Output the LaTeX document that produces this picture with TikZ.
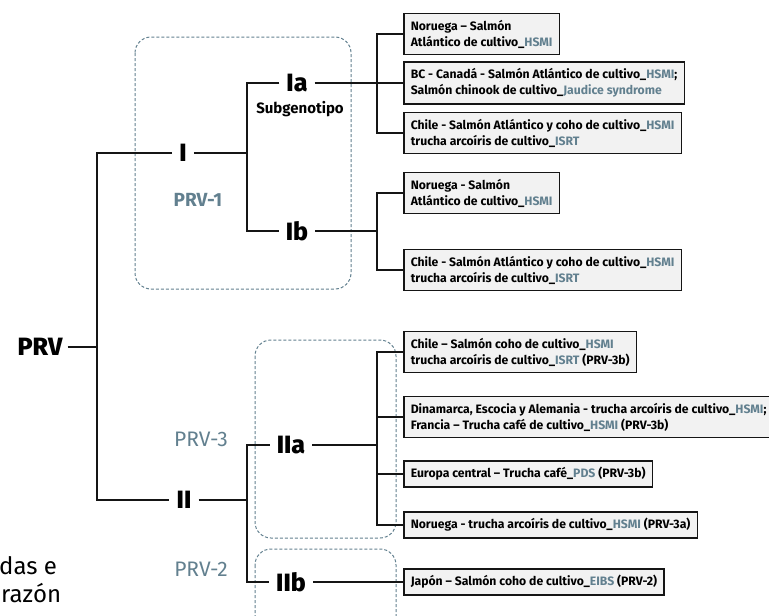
\documentclass[tikz,border=0pt]{standalone}
\usepackage{fontspec}
\setmainfont{Fira Sans}
\newfontfamily\heavyfont{Fira Sans ExtraBold}
\usepackage{xcolor}
\definecolor{prv-main}{HTML}{151515}
\definecolor{prv-blue}{HTML}{62808F}
\definecolor{prv-fill}{HTML}{F2F2F2}
\newcommand{\virus}[1]{\textcolor{prv-blue}{#1}}
\tikzset{
  clade/.style={font=\fontsize{25}{25}\selectfont\heavyfont, inner xsep=7pt, inner ysep=2pt},
  host/.style={draw=prv-main, line width=1.5pt, fill=prv-fill, anchor=west, align=left,
    inner xsep=7pt, inner ysep=6.5pt, font=\fontsize{12.2}{16}\selectfont\bfseries},
  link/.style={prv-main, line width=1.3pt},
  group/.style={draw=prv-blue, dash pattern=on 3pt off 2pt, rounded corners=16pt, line width=1pt},
}
\begin{document}
\begin{tikzpicture}[x=1pt, y=-1pt]

    % Canvas
    \useasboundingbox (0,0) rectangle (769,616);
    \clip (0,0) rectangle (769,616);

    % Dashed groups
    \draw[group] (135,37) rectangle (351,289);
    \draw[group] (255,340) rectangle (396,538);
    \draw[group] (255,549) rectangle (396,640);

    % Cut-off text on the left
    \node[anchor=west, inner sep=0pt, font=\fontsize{24}{27}\selectfont] (cut1) at (-1,566) {das e};
    \node[anchor=west, inner sep=0pt, font=\fontsize{24}{27}\selectfont] (cut2) at (1,593) {razón};

    % Genotypes
    \node[clade, inner xsep=5pt] (prv) at (40,347) {PRV};
    \node[clade] (g1) at (183,153) {I};
    \node[clade] (g2) at (184,500) {II};
    \node[clade] (ia) at (297,83) {Ia};
    \node[clade] (ib) at (297,231) {Ib};
    \node[clade] (iia) at (291,445) {IIa};
    \node[clade] (iib) at (291,582) {IIb};

    % Labels
    \node[font=\fontsize{15}{15}\selectfont\bfseries] (sub) at (300,109) {Subgenotipo};
    \node[font=\fontsize{19}{19}\selectfont\bfseries, text=prv-blue] (prv1) at (198,200) {PRV-1};
    \node[font=\fontsize{21}{21}\selectfont, text=prv-blue] (prv3) at (201,439) {PRV-3};
    \node[font=\fontsize{21}{21}\selectfont, text=prv-blue] (prv2) at (201,569) {PRV-2};

    % Hosts
    \node[host] (b1) at (403,34) {Noruega – Salmón\\Atlántico de cultivo\_\virus{HSMI}};
    \node[host] (b2) at (403,83) {BC - Canadá - Salmón Atlántico de cultivo\_\virus{HSMI};\\Salmón chinook de cultivo\_\virus{Jaudice syndrome}};
    \node[host] (b3) at (403,133) {Chile - Salmón Atlántico y coho de cultivo\_\virus{HSMI}\\trucha arcoíris de cultivo\_\virus{ISRT}};
    \node[host] (b4) at (403,193) {Noruega - Salmón\\Atlántico de cultivo\_\virus{HSMI}};
    \node[host] (b5) at (403,270) {Chile - Salmón Atlántico y coho de cultivo\_\virus{HSMI}\\trucha arcoíris de cultivo\_\virus{ISRT}};
    \node[host] (b6) at (403,352) {Chile – Salmón coho de cultivo\_\virus{HSMI}\\trucha arcoíris de cultivo\_\virus{ISRT} (PRV-3b)};
    \node[host] (b7) at (403,417) {Dinamarca, Escocia y Alemania - trucha arcoíris de cultivo\_\virus{HSMI};\\Francia – Trucha café de cultivo\_\virus{HSMI} (PRV-3b)};
    \node[host] (b8) at (403,474) {Europa central – Trucha café\_\virus{PDS} (PRV-3b)};
    \node[host] (b9) at (403,525) {Noruega - trucha arcoíris de cultivo\_\virus{HSMI} (PRV-3a)};
    \node[host] (b10) at (403,582) {Japón – Salmón coho de cultivo\_\virus{EIBS} (PRV-2)};

    % Forks
    \coordinate (root) at (97,347);
    \coordinate (f1) at (247,153);
    \coordinate (f2) at (247,500);
    \coordinate (s1) at (377,83);
    \coordinate (s2) at (377,231);
    \coordinate (s3) at (377,445);

    % Tree
    \draw[link] (prv.east) -- (root);
    \draw[link] (g1.west) -| (root) |- (g2.west);
    \draw[link] (g1.east) -- (f1);
    \draw[link] (ia.west) -| (f1) |- (ib.west);
    \draw[link] (g2.east) -- (f2);
    \draw[link] (iia.west) -| (f2) |- (iib.west);

    % Subgenotype Ia
    \draw[link] (ia.east) -- (b2.west);
    \draw[link] (b1.west) -| (s1) |- (b3.west);

    % Subgenotype Ib
    \draw[link] (ib.east) -- (s2);
    \draw[link] (b4.west) -| (s2) |- (b5.west);

    % Subgenotype IIa
    \draw[link] (iia.east) -- (s3);
    \draw[link] (b6.west) -| (s3) |- (b9.west);
    \draw[link] (b7.west) -- (b7.west -| s3);
    \draw[link] (b8.west) -- (b8.west -| s3);

    % Subgenotype IIb
    \draw[link] (iib.east) -- (b10.west);

\end{tikzpicture}
\end{document}
